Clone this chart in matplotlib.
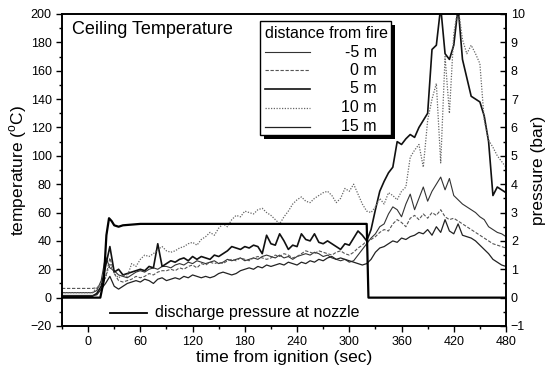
import numpy as np
import matplotlib
matplotlib.use('Agg')
import matplotlib.pyplot as plt
from matplotlib.patches import Rectangle
from matplotlib.ticker import MultipleLocator

plt.rcParams['font.family'] = ['Liberation Sans', 'DejaVu Sans']
plt.rcParams['mathtext.fontset'] = 'custom'
plt.rcParams['mathtext.rm'] = 'Liberation Sans'

# time axis, one reading every 5 s from -30 s to 480 s
time = np.arange(-30, 481, 5)

# ceiling temperatures (deg C), rows of 60 s starting at -30 s
temp_m5 = [3.5, 3.5, 3.5, 3.5, 3.5, 3.5, 3.5, 3.5, 5, 12, 29, 21,
           19, 16, 15, 14, 16, 18, 19, 18, 20, 21, 20, 22,
           22, 21, 23, 24, 23, 25, 24, 26, 25, 24, 25, 26,
           24, 25, 27, 26, 27, 28, 26, 27, 28, 27, 29, 30,
           29, 28, 30, 28, 29, 27, 29, 30, 31, 30, 32, 31,
           29, 30, 28, 27, 26, 27, 25, 26, 30, 34, 38, 42,
           45, 50, 52, 59, 64, 62, 57, 66, 73, 62, 70, 78,
           68, 75, 80, 85, 76, 84, 72, 69, 66, 64, 62, 60,
           57, 55, 50, 48, 46, 45, 43]
temp_0 = [6.5, 6.5, 6.5, 6.5, 6.5, 6.5, 6.5, 6.5, 7, 9, 14, 28,
          17, 12, 11, 12, 13, 15, 14, 15, 17, 16, 18, 19,
          19, 20, 19, 21, 20, 22, 23, 21, 24, 23, 25, 24,
          25, 24, 26, 27, 26, 28, 27, 26, 28, 29, 28, 27,
          28, 30, 29, 31, 30, 28, 29, 31, 33, 32, 31, 33,
          32, 31, 30, 32, 33, 31, 30, 32, 35, 37, 40, 41,
          43, 46, 48, 47, 52, 55, 53, 50, 56, 58, 55, 59,
          56, 60, 58, 62, 57, 55, 56, 54, 52, 50, 48, 46,
          44, 42, 40, 38, 37, 36, 35]
temp_5 = [1, 1, 1, 1, 1, 1, 1, 1, 3, 8, 22, 36,
          18, 20, 16, 17, 18, 19, 20, 19, 22, 21, 38, 22,
          24, 26, 25, 27, 28, 26, 29, 27, 29, 28, 27, 30,
          29, 31, 33, 36, 35, 34, 36, 35, 37, 36, 31, 44,
          38, 37, 45, 40, 34, 37, 36, 45, 41, 40, 45, 39,
          38, 40, 38, 36, 34, 38, 37, 42, 47, 44, 40, 48,
          62, 75, 82, 88, 92, 110, 108, 112, 115, 113, 120, 125,
          130, 175, 178, 205, 172, 168, 178, 205, 168, 155, 142, 140,
          138, 128, 110, 72, 78, 76, 74]
temp_10 = [3.5, 3.5, 3.5, 3.5, 3.5, 3.5, 3.5, 3.5, 7, 10, 14, 24,
           17, 14, 16, 15, 24, 22, 27, 30, 29, 31, 34, 36,
           33, 32, 33, 35, 36, 38, 39, 37, 41, 43, 46, 44,
           49, 52, 50, 55, 58, 57, 61, 60, 59, 62, 63, 60,
           58, 55, 52, 57, 61, 66, 69, 71, 68, 67, 70, 72,
           74, 75, 72, 67, 70, 77, 75, 80, 73, 66, 61, 60,
           64, 70, 66, 74, 72, 69, 75, 78, 99, 104, 108, 92,
           125, 140, 151, 95, 170, 130, 186, 205, 182, 172, 178, 172,
           165, 125, 111, 106, 100, 96, 92]
temp_15 = [1.5, 1.5, 1.5, 1.5, 1.5, 1.5, 1.5, 1.5, 2, 6, 10, 15,
           8, 6, 8, 10, 11, 12, 11, 13, 12, 10, 13, 14,
           12, 13, 14, 13, 15, 14, 16, 15, 14, 15, 14, 15,
           17, 18, 17, 16, 17, 19, 20, 21, 20, 22, 21, 23,
           22, 23, 24, 23, 25, 24, 23, 25, 24, 26, 25, 27,
           26, 28, 29, 27, 28, 27, 26, 25, 24, 23, 24, 27,
           32, 35, 36, 38, 40, 39, 42, 41, 43, 44, 46, 45,
           48, 44, 50, 46, 55, 47, 45, 52, 44, 43, 42, 40,
           37, 34, 31, 27, 25, 23, 22]

# discharge pressure at nozzle (bar)
press_time = [-30, 14, 18, 21, 24, 27, 30, 35, 40, 60, 90, 120, 150, 180, 210, 240, 270, 300, 320, 322, 480]
press_bar = [0, 0, 0.6, 2.2, 2.8, 2.7, 2.55, 2.5, 2.55, 2.6, 2.6, 2.6, 2.6, 2.6, 2.6, 2.6, 2.6, 2.6, 2.6, 0, 0]

labels = ['-5 m', '0 m', '5 m', '10 m', '15 m']
series = [temp_m5, temp_0, temp_5, temp_10, temp_15]
styles = [dict(color='#333333', lw=0.8, ls='-'),
          dict(color='#555555', lw=0.8, ls=(0, (3, 1.5))),
          dict(color='#111111', lw=1.2, ls='-'),
          dict(color='#666666', lw=0.9, ls=(0, (1, 1.2))),
          dict(color='#222222', lw=0.9, ls='-')]

fig = plt.figure(figsize=(5.56, 3.68), dpi=100)
ax = fig.add_axes([62/556, 42/368, 444/556, 312/368])

for y, st in zip(series, styles):
    ax.plot(time, y, **st)

ax.set_xlim(-30, 480)
ax.set_ylim(-20, 200)
ax.set_xticks(range(0, 481, 60))
ax.set_yticks(range(-20, 201, 20))
ax.xaxis.set_minor_locator(MultipleLocator(30))
ax.yaxis.set_minor_locator(MultipleLocator(10))
ax.tick_params(which='both', direction='out', labelsize=9, width=1)
ax.tick_params(which='major', length=4)
ax.tick_params(which='minor', length=2.2)
ax.set_xlabel('time from ignition (sec)', fontsize=12.5, labelpad=1)
ax.set_ylabel(r'temperature ($^{\mathrm{o}}$C)', fontsize=12.5, labelpad=1)

ax2 = ax.twinx()
ax2.plot(press_time, press_bar, color='black', lw=1.6)
ax2.set_ylim(-1, 10)
ax2.set_yticks(range(-1, 11))
ax2.yaxis.set_minor_locator(MultipleLocator(0.5))
ax2.tick_params(which='both', direction='in', labelsize=9, width=1)
ax2.tick_params(which='major', length=4)
ax2.tick_params(which='minor', length=2.2)
ax2.set_ylabel('pressure (bar)', fontsize=12.5, labelpad=4)
for a in (ax, ax2):
    for sp in a.spines.values():
        sp.set_linewidth(1.2)

ax2.text(0.0225, 0.949, 'Ceiling Temperature', transform=ax.transAxes,
         fontsize=13, va='center', ha='left')

# legend box with Origin style shadow
ax2.add_patch(Rectangle((0.455, 0.600), 0.296, 0.366, transform=ax.transAxes,
                        facecolor='black', edgecolor='none', zorder=5, clip_on=False))
ax2.add_patch(Rectangle((0.446, 0.612), 0.296, 0.366, transform=ax.transAxes,
                        facecolor='white', edgecolor='black', lw=1, zorder=6, clip_on=False))
ax2.text(0.457, 0.939, 'distance from fire', transform=ax.transAxes,
         fontsize=11.5, va='center', ha='left', zorder=7)
rows_y = [0.878, 0.820, 0.760, 0.699, 0.638]
for ry, lab, st in zip(rows_y, labels, styles):
    ax2.plot([0.457, 0.559], [ry, ry], transform=ax.transAxes, zorder=7, clip_on=False, **st)
    ax2.text(0.709, ry, lab, transform=ax.transAxes, fontsize=11.5,
             va='center', ha='right', zorder=7)

ax2.plot([0.108, 0.191], [0.0417, 0.0417], transform=ax.transAxes, color='black', lw=1.3)
ax2.text(0.2095, 0.0417, 'discharge pressure at nozzle', transform=ax.transAxes,
         fontsize=11.5, va='center', ha='left')

fig.savefig('out.png', dpi=100)
